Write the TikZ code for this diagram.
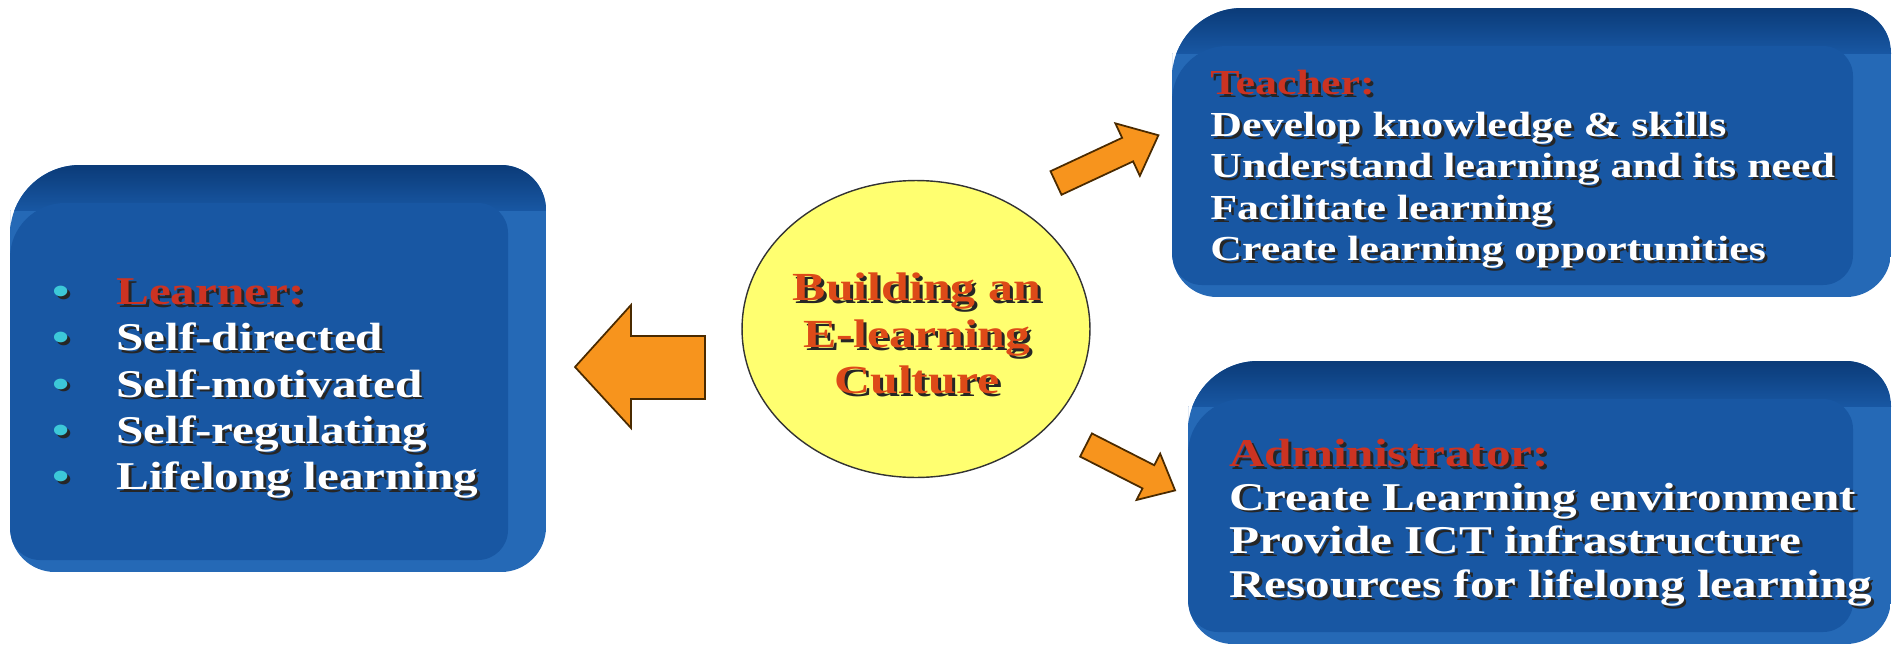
\documentclass[tikz,border=0pt]{standalone}
\usepackage{fontspec}
\setmainfont{Liberation Serif}[FakeStretch=1.25]
\usetikzlibrary{shapes.geometric}

\definecolor{boxface}{HTML}{1857A3}
\definecolor{boxside}{HTML}{2569B6}
\definecolor{boxdark}{HTML}{0B3B78}
\definecolor{headred}{HTML}{CC3322}
\definecolor{hubred}{HTML}{DD4A18}
\definecolor{hubfill}{HTML}{FFFF70}
\definecolor{arrowfill}{HTML}{F7941D}
\definecolor{arrowline}{HTML}{4A2A00}
\definecolor{dotcyan}{HTML}{3CC8D8}

% text with a dark drop shadow
\newcommand\shd[2][white]{\makebox[0pt][l]{\hspace*{1.6pt}\raisebox{-1.6pt}{\textcolor{black!85}{#2}}}\textcolor{#1}{#2}}
\newcommand\itm[1]{\makebox[1.28cm][l]{\shd[dotcyan]{\textbullet}}#1}

\newcommand\learnerfont{\bfseries\fontsize{22.4}{26.4}\selectfont}
\newcommand\teacherfont{\bfseries\fontsize{20}{23.6}\selectfont}
\newcommand\adminfont{\bfseries\fontsize{22.4}{24.9}\selectfont}
\newcommand\hubfont{\bfseries\fontsize{22.7}{26.6}\selectfont}

% blue bevelled panel: left, top, right, bottom
\newcommand\bevelbox[4]{%
  \begin{scope}
    \clip (#1,{#2+90}) [rounded corners=1.4cm] -- (#1,#2) -- ({#1+160},#2) [rounded corners=0.9cm] -- (#3,#2) -- (#3,#4) -- (#1,#4) -- cycle;
    \fill[boxside] (#1,#2) rectangle (#3,#4);
    \shade[top color=boxdark,bottom color=boxface] (#1,#2) rectangle (#3,{#2+45});
    \fill[boxface] (#1,{#2+120}) [rounded corners=1.1cm] -- (#1,{#2+38}) -- ({#1+160},{#2+38}) [rounded corners=0.6cm] -- ({#3-38},{#2+38}) -- ({#3-38},{#4-12}) -- (#1,{#4-12}) -- cycle;
  \end{scope}}

\begin{document}
\begin{tikzpicture}[x=0.02cm,y=-0.02cm,
  listtext/.style={align=left,inner sep=0pt,anchor=west},
  blockarrow/.style={fill=arrowfill,draw=arrowline,line width=1pt,line join=miter},
  hub/.style={ellipse,draw=black!80,line width=0.8pt,fill=hubfill,inner sep=0pt}]

	\useasboundingbox (0,0) rectangle (1898,646);

	\bevelbox{10}{165}{546}{572}
	\bevelbox{1172}{8}{1891}{297}
	\bevelbox{1188}{361}{1891}{644}

	\node[listtext,font=\learnerfont] (learner) at (52,390)
		{\itm{\shd[headred]{Learner:}}\\ \itm{\shd{Self-directed}}\\ \itm{\shd{Self-motivated}}\\
		 \itm{\shd{Self-regulating}}\\ \itm{\shd{Lifelong learning}}};
	\node[listtext,font=\teacherfont] (teacher) at (1210,171)
		{\shd[headred]{Teacher:}\\ \shd{Develop knowledge \& skills}\\ \shd{Understand learning and its need}\\
		 \shd{Facilitate learning}\\ \shd{Create learning opportunities}};
	\node[listtext,font=\adminfont] (admin) at (1229,524)
		{\shd[headred]{Administrator:}\\ \shd{Create Learning environment}\\ \shd{Provide ICT infrastructure}\\
		 \shd{Resources for lifelong learning}};

	\node[hub,minimum width=6.96cm,minimum height=5.94cm] (hub) at (916,329) {};
	\node[align=center,inner sep=0pt,font=\hubfont] (hubtext) at (917,335)
		{\shd[hubred]{Building an}\\ \shd[hubred]{E-learning}\\ \shd[hubred]{Culture}};

	% block arrows out of the hub
	\draw[blockarrow] (575,367) -- (631,305) -- (631,336) -- (705,336) -- (705,399) -- (631,399) -- (631,428) -- cycle;
	\begin{scope}[shift={(1056,183)},rotate=25]
		\draw[blockarrow] (0,-13) -- (79,-13) -- (79,-29) -- (113,0) -- (79,29) -- (79,13) -- (0,13) -- cycle;
	\end{scope}
	\begin{scope}[shift={(1086,445)},rotate=-27]
		\draw[blockarrow] (0,-13) -- (70,-13) -- (70,-26) -- (100,0) -- (70,26) -- (70,13) -- (0,13) -- cycle;
	\end{scope}

\end{tikzpicture}
\end{document}
